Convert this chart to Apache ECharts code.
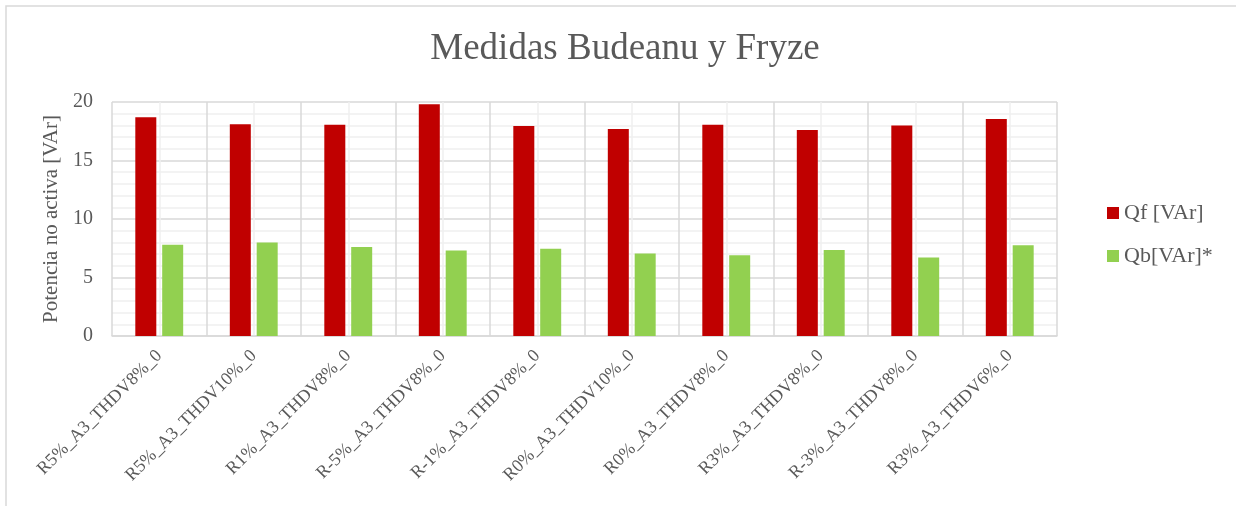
<!DOCTYPE html>
<html>
<head>
<meta charset="utf-8">
<script src="https://cdn.jsdelivr.net/npm/echarts@6/dist/echarts.min.js"></script>
<style>
html,body{margin:0;padding:0;background:#fff;}
#chart{width:1236px;height:506px;}
</style>
</head>
<body>
<div id="chart"></div>
<script>
// data
var categories = ['R5%_A3_THDV8%_0', 'R5%_A3_THDV10%_0', 'R1%_A3_THDV8%_0', 'R-5%_A3_THDV8%_0', 'R-1%_A3_THDV8%_0',
    'R0%_A3_THDV10%_0', 'R0%_A3_THDV8%_0', 'R3%_A3_THDV8%_0', 'R-3%_A3_THDV8%_0', 'R3%_A3_THDV6%_0'];
var qf = [18.7, 18.1, 18.05, 19.8, 17.95, 17.7, 18.05, 17.6, 18.0, 18.55];
var qb = [7.8, 8.0, 7.6, 7.3, 7.45, 7.05, 6.9, 7.35, 6.7, 7.75];
var seriesNames = ['Qf [VAr]', 'Qb[VAr]*'];
var yTicks = {min: 0, max: 20, step: 5};

var font = '"Liberation Serif", "Times New Roman", serif';
var txt = '#595959';

var mychart = echarts.init(document.getElementById('chart'));
var option = {
    backgroundColor: '#fff',
    animation: false,
    color: ['#C00000', '#92D050'],
    title: {
        text: 'Medidas Budeanu y Fryze',
        left: 620,
        textAlign: 'center',
        top: 26,
        textStyle: {fontFamily: font, fontSize: 37, fontWeight: 'normal', color: txt}
    },
    graphic: [{
        type: 'rect',
        shape: {x: 6, y: 6, width: 1400, height: 700},
        style: {fill: null, stroke: '#d9d9d9', lineWidth: 1.5},
        silent: true
    }],
    legend: {
        orient: 'vertical',
        left: 1102,
        top: 197,
        itemWidth: 12,
        itemHeight: 12,
        itemGap: 21,
        icon: 'rect',
        textStyle: {fontFamily: font, fontSize: 22, color: txt},
        data: seriesNames
    },
    grid: {
        left: 112,
        right: 179,
        top: 102,
        bottom: 170
    },
    xAxis: [{
        type: 'category',
        data: categories,
        axisLine: {lineStyle: {color: '#d9d9d9', width: 1.5}},
        axisTick: {show: false},
        splitLine: {show: true, lineStyle: {color: '#d9d9d9', width: 1.5}},
        axisLabel: {
            rotate: 45,
            interval: 0,
            margin: 17,
            fontFamily: font,
            fontSize: 18,
            color: txt
        }
    }, {
        // only there to draw the faint lines through each category centre
        type: 'value',
        min: 0,
        max: 10,
        interval: 1,
        show: true,
        axisLine: {show: false},
        axisTick: {show: false},
        axisLabel: {show: false},
        splitLine: {show: false},
        minorTick: {show: false, splitNumber: 2},
        minorSplitLine: {show: true, lineStyle: {color: '#f0f0f0', width: 1.5}}
    }],
    yAxis: {
        type: 'value',
        min: yTicks.min,
        max: yTicks.max,
        interval: yTicks.step,
        name: 'Potencia no activa [VAr]',
        nameLocation: 'middle',
        nameGap: 45,
        nameTextStyle: {fontFamily: font, fontSize: 21, color: txt},
        axisLine: {show: false},
        axisTick: {show: false},
        axisLabel: {fontFamily: font, fontSize: 20, color: txt, margin: 19},
        splitLine: {lineStyle: {color: '#d9d9d9', width: 1.5}},
        minorTick: {show: false, splitNumber: 5},
        minorSplitLine: {show: true, lineStyle: {color: '#f0f0f0', width: 1.5}}
    },
    series: [{
        name: seriesNames[0],
        type: 'bar',
        xAxisIndex: 0,
        barWidth: 21,
        barGap: '28%',
        data: qf
    }, {
        name: seriesNames[1],
        type: 'bar',
        xAxisIndex: 0,
        barWidth: 21,
        barGap: '28%',
        data: qb
    }]
};
mychart.setOption(option);
</script>
</body>
</html>
